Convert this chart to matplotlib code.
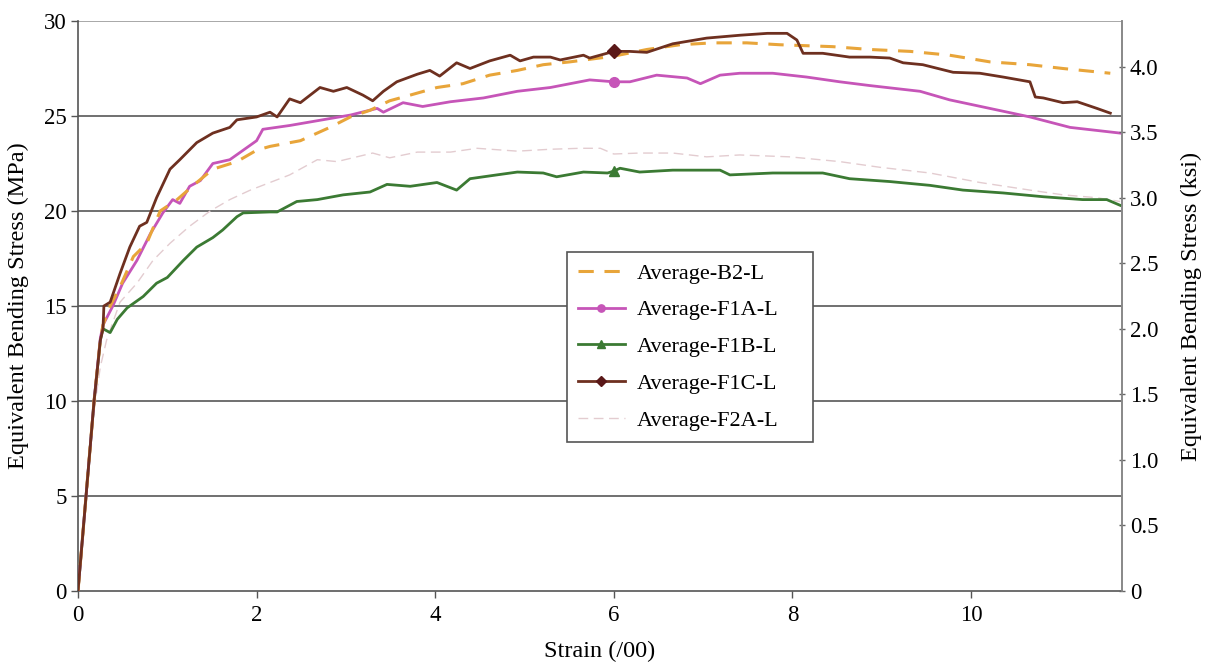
import matplotlib
matplotlib.use("Agg")
import matplotlib.pyplot as plt

plt.rcParams['font.family'] = ['Liberation Serif', 'DejaVu Serif']

# Strain (per mille) vs equivalent bending stress (MPa)
b2_x = [0, 0.09, 0.18, 0.25, 0.28, 0.36, 0.47, 0.62, 0.77, 0.92, 1.11, 1.33, 1.51, 1.78, 2.00, 2.15,
        2.49, 2.82, 3.05, 3.27, 3.49, 3.72, 4.02, 4.31, 4.61, 4.92, 5.21, 5.51, 5.92, 6.00, 6.37, 6.74,
        7.11, 7.49, 7.86, 8.45, 8.87, 9.32, 9.76, 10.21, 10.66, 11.03, 11.56]
b2_y = [0, 5.0, 10.0, 13.2, 14.0, 15.0, 16.0, 17.6, 18.3, 20.0, 20.6, 21.5, 22.2, 22.6, 23.2, 23.4,
        23.7, 24.4, 24.95, 25.3, 25.8, 26.1, 26.5, 26.7, 27.15, 27.4, 27.7, 27.85, 28.1, 28.15, 28.5, 28.75,
        28.85, 28.85, 28.75, 28.65, 28.5, 28.4, 28.2, 27.85, 27.7, 27.5, 27.25]

f1a_x = [0, 0.09, 0.18, 0.25, 0.28, 0.39, 0.50, 0.66, 0.81, 0.95, 1.06, 1.14, 1.25, 1.37, 1.51, 1.70,
         1.85, 2.00, 2.07, 2.37, 2.74, 3.05, 3.35, 3.42, 3.64, 3.86, 4.17, 4.54, 4.92, 5.29, 5.40, 5.73,
         6.00, 6.18, 6.48, 6.82, 6.97, 7.19, 7.41, 7.78, 8.16, 8.53, 8.87, 9.43, 9.76, 10.21, 10.66,
         11.11, 11.67]
f1a_y = [0, 5.0, 10.0, 13.3, 14.0, 15.0, 16.2, 17.4, 18.8, 19.9, 20.6, 20.4, 21.3, 21.6, 22.5, 22.7,
         23.2, 23.7, 24.3, 24.5, 24.8, 25.05, 25.4, 25.2, 25.7, 25.5, 25.75, 25.95, 26.3, 26.5, 26.6, 26.9,
         26.8, 26.8, 27.15, 27.0, 26.7, 27.15, 27.25, 27.25, 27.05, 26.8, 26.6, 26.3, 25.85, 25.4, 24.95,
         24.4, 24.1]

f1b_x = [0, 0.09, 0.18, 0.25, 0.28, 0.36, 0.44, 0.55, 0.73, 0.88, 1.00, 1.18, 1.33, 1.51, 1.62, 1.78,
         1.85, 2.15, 2.23, 2.45, 2.68, 2.97, 3.27, 3.46, 3.72, 4.02, 4.24, 4.39, 4.69, 4.92, 5.21, 5.36,
         5.66, 5.93, 6.00, 6.07, 6.29, 6.66, 7.19, 7.30, 7.78, 8.34, 8.64, 9.09, 9.54, 9.91, 10.36,
         10.81, 11.25, 11.52, 11.67]
f1b_y = [0, 5.0, 10.0, 13.2, 13.8, 13.6, 14.3, 14.9, 15.5, 16.2, 16.5, 17.4, 18.1, 18.6, 19.0, 19.7,
         19.9, 19.95, 19.95, 20.5, 20.6, 20.85, 21.0, 21.4, 21.3, 21.5, 21.1, 21.7, 21.9, 22.05, 22.0, 21.8,
         22.05, 22.0, 22.1, 22.25, 22.05, 22.15, 22.15, 21.9, 22.0, 22.0, 21.7, 21.55, 21.35, 21.1, 20.95,
         20.75, 20.6, 20.6, 20.3]

f1c_x = [0, 0.09, 0.18, 0.25, 0.28, 0.29, 0.36, 0.47, 0.58, 0.69, 0.77, 0.88, 1.03, 1.14, 1.33, 1.51,
         1.70, 1.78, 2.00, 2.15, 2.23, 2.37, 2.49, 2.71, 2.86, 3.01, 3.19, 3.30, 3.42, 3.57, 3.80, 3.94,
         4.05, 4.24, 4.39, 4.61, 4.84, 4.95, 5.10, 5.29, 5.40, 5.66, 5.73, 6.00, 6.18, 6.37, 6.66, 7.04,
         7.41, 7.72, 7.94, 8.05, 8.12, 8.34, 8.64, 8.87, 9.09, 9.24, 9.46, 9.80, 10.10, 10.36, 10.66,
         10.72, 10.81, 11.03, 11.19, 11.41, 11.56]
f1c_y = [0, 5.0, 10.0, 13.2, 13.8, 15.0, 15.2, 16.7, 18.1, 19.2, 19.4, 20.7, 22.2, 22.7, 23.6, 24.1,
         24.4, 24.8, 24.95, 25.2, 24.95, 25.9, 25.7, 26.5, 26.3, 26.5, 26.1, 25.8, 26.3, 26.8, 27.2, 27.4,
         27.1, 27.8, 27.5, 27.9, 28.2, 27.9, 28.1, 28.1, 27.95, 28.2, 28.05, 28.4, 28.4, 28.35, 28.8, 29.1,
         29.25, 29.35, 29.35, 29.0, 28.3, 28.3, 28.1, 28.1, 28.05, 27.8, 27.7, 27.3, 27.25, 27.05, 26.8,
         26.0, 25.95, 25.7, 25.75, 25.4, 25.15]

f2a_x = [0, 0.09, 0.18, 0.25, 0.32, 0.47, 0.66, 0.84, 1.03, 1.25, 1.48, 1.70, 1.93, 2.15, 2.37, 2.68,
         2.90, 3.30, 3.49, 3.80, 4.17, 4.47, 4.92, 5.29, 5.62, 5.85, 6.00, 6.29, 6.66, 7.04, 7.41, 7.97,
         8.53, 8.98, 9.54, 10.10, 10.66, 11.03, 11.41, 11.67]
f2a_y = [0, 4.8, 9.5, 11.8, 13.2, 15.2, 16.2, 17.4, 18.3, 19.2, 20.0, 20.6, 21.1, 21.5, 21.9, 22.7,
         22.6, 23.05, 22.8, 23.1, 23.1, 23.3, 23.15, 23.25, 23.3, 23.3, 23.0, 23.05, 23.05, 22.85, 22.95,
         22.85, 22.6, 22.3, 22.0, 21.5, 21.1, 20.85, 20.7, 20.5]

x_ticks = [0, 2, 4, 6, 8, 10]
mpa_ticks = [0, 5, 10, 15, 20, 25, 30]
ksi_ticks = [0, 0.5, 1.0, 1.5, 2.0, 2.5, 3.0, 3.5, 4.0]
ksi_labels = ['0', '0.5', '1.0', '1.5', '2.0', '2.5', '3.0', '3.5', '4.0']
MPA_PER_KSI = 6.895
marker_strain = 6.0

TICK_FS = 16.5
LABEL_FS = 17.5
LEG_FS = 16

W, H = 1205, 667
fig = plt.figure(figsize=(W / 100, H / 100), dpi=100)
ax = fig.add_axes([78 / W, 1 - 591 / H, (1122 - 78) / W, (591 - 21) / H])

grid_c = '#707070'
for v in mpa_ticks[1:]:
    ax.axhline(v, color=grid_c if v < 30 else '#a8a8a8', lw=1.4, zorder=1)

ax.plot(f2a_x, f2a_y, color='#e3ccd0', lw=1.0, dashes=(7, 4), label='Average-F2A-L', zorder=2)
ax.plot(f1b_x, f1b_y, color='#3b7a33', lw=2.0, marker='^', ms=7,
        markevery=[f1b_x.index(marker_strain)], label='Average-F1B-L', zorder=3)
ax.plot(f1a_x, f1a_y, color='#c655b8', lw=2.0, marker='o', ms=7,
        markevery=[f1a_x.index(marker_strain)], label='Average-F1A-L', zorder=3)
ax.plot(b2_x, b2_y, color='#e8a53a', lw=2.2, dashes=(5, 3.5), label='Average-B2-L', zorder=4)
ax.plot(f1c_x, f1c_y, color='#6e3020', lw=2.0, marker='D', ms=7, mfc='#5a1818', mec='#5a1818',
        markevery=[f1c_x.index(marker_strain)], label='Average-F1C-L', zorder=5)

ax.set_xlim(0, (1122 - 78) / 89.3)
ax.set_ylim(0, 30)
ax.set_xticks(x_ticks)
ax.set_yticks(mpa_ticks)
ax.tick_params(axis='both', labelsize=TICK_FS, color='#555555', length=5, width=1, pad=3)
ax.tick_params(axis='x', pad=5)

ax.spines['top'].set_visible(False)
ax.spines['left'].set_color('#555555')
ax.spines['bottom'].set_color('#555555')
ax.spines['right'].set_color('#888888')
for s in ['left', 'bottom', 'right']:
    ax.spines[s].set_linewidth(1.2)

ax.set_xlabel('Strain (/00)', fontsize=LABEL_FS, labelpad=11)
ax.set_ylabel('Equivalent Bending Stress (MPa)', fontsize=LABEL_FS, labelpad=11)

ax2 = ax.twinx()
ax2.set_ylim(0, 30 / MPA_PER_KSI)
ax2.set_yticks(ksi_ticks)
ax2.set_yticklabels(ksi_labels)
ax2.tick_params(axis='y', labelsize=TICK_FS, color='#666666', length=5, width=1,
                direction='inout', pad=3)
for s in ['top', 'left', 'bottom']:
    ax2.spines[s].set_visible(False)
ax2.spines['right'].set_color('#888888')
ax2.spines['right'].set_linewidth(1.2)
ax2.set_ylabel('Equivalent Bending Stress (ksi)', fontsize=LABEL_FS, labelpad=16)

handles, labels = ax.get_legend_handles_labels()
order = ['Average-B2-L', 'Average-F1A-L', 'Average-F1B-L', 'Average-F1C-L', 'Average-F2A-L']
hmap = dict(zip(labels, handles))
leg = fig.legend([hmap[k] for k in order], order, loc='upper left', numpoints=1, mode='expand',
                 bbox_to_anchor=(567 / W, 1 - 444 / H, 246 / W, 192 / H), fontsize=LEG_FS,
                 frameon=True, fancybox=False, edgecolor='#555555', framealpha=1, borderpad=0.5,
                 labelspacing=0.73, handlelength=2.1, handletextpad=0.55, borderaxespad=0,
                 markerscale=0.75)
leg.get_frame().set_linewidth(1.2)

fig.savefig('out.png', dpi=100)
